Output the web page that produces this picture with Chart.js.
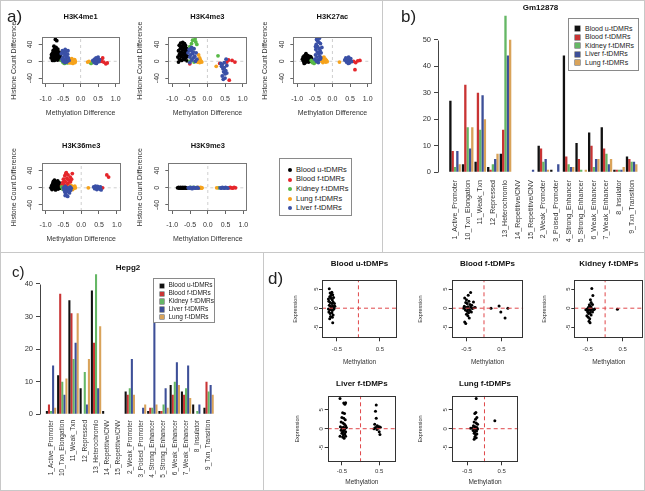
<!DOCTYPE html>
<html><head><meta charset="utf-8">
<script src="https://cdn.jsdelivr.net/npm/chart.js@4.4.1/dist/chart.umd.min.js"></script>
<style>
html,body{margin:0;padding:0;background:#fff;}
#fig{position:relative;width:645px;height:491px;overflow:hidden;font-family:'Liberation Sans',Arial,Helvetica,sans-serif;color:#222;background:#fff;}
#fig canvas{position:absolute;}
.lbl{position:absolute;font-size:17px;line-height:1;color:#222;}
.ln{position:absolute;background:#c8c8c8;}
.legend{position:absolute;background:#fff;border:1px solid #8a8a8a;box-sizing:border-box;z-index:5;}
.legend span{position:absolute;white-space:nowrap;line-height:1;color:#222;}
.legend i{position:absolute;display:block;}
</style></head><body><div id="fig"></div>
<script>
// ---------------- DATA ----------------
const seriesNames = ['Blood u-tDMRs','Blood f-tDMRs','Kidney f-tDMRs','Liver f-tDMRs','Lung f-tDMRs'];
const scatterLegendOrder = ['Blood u-tDMRs','Blood f-tDMRs','Kidney f-tDMRs','Lung f-tDMRs','Liver f-tDMRs'];
const histoneMarks = ['H3K4me1','H3K4me3','H3K27ac','H3K36me3','H3K9me3'];
const aXTicks = [-1, -0.5, 0, 0.5, 1];
const aYTicks = [-40, 0, 40];

// Panel a: [methylation difference, histone count difference]
const k4me1_bloodU = [[-0.84,8],[-0.82,14],[-0.8,20],[-0.79,5],[-0.78,26],[-0.77,12],[-0.76,18],[-0.75,2],[-0.74,30],[-0.73,9],[-0.72,22],[-0.71,15],[-0.7,6],[-0.69,27],[-0.68,11],[-0.67,19],[-0.66,3],[-0.65,24],[-0.64,14],[-0.63,8],[-0.62,17],[-0.61,21],[-0.6,10],[-0.8,2],[-0.76,36],[-0.72,52],[-0.68,49],[-0.7,33],[-0.83,16],[-0.65,29],[-0.58,13],[-0.6,4]];
const k4me1_bloodF = [[0.6,4],[0.63,8],[0.66,-2],[0.72,-6],[0.76,-4],[0.58,0]];
const k4me1_kidney = [[-0.55,2],[-0.5,-3],[-0.48,1],[-0.46,-5],[-0.44,0],[-0.42,-2],[-0.4,3],[-0.38,-4],[-0.36,1],[0.28,-3],[0.3,-5]];
const k4me1_lung = [[-0.35,2],[-0.33,-3],[-0.31,5],[-0.3,0],[-0.29,-4],[-0.27,3],[-0.26,-2],[-0.25,6],[-0.23,0],[-0.22,-5],[-0.2,2],[-0.19,-1],[-0.17,4],[-0.16,-3],[-0.15,0],[0.2,-2],[0.24,0]];
const k4me1_liver = [[-0.55,18],[-0.52,25],[-0.5,10],[-0.48,20],[-0.47,3],[-0.45,15],[-0.43,22],[-0.42,6],[-0.4,12],[-0.38,0],[-0.37,17],[-0.35,8],[-0.33,2],[-0.5,0],[-0.45,-3],[-0.4,-2],[-0.53,5],[-0.36,25],[-0.44,28],[0.35,2],[0.38,-2],[0.4,5],[0.42,0],[0.44,8],[0.46,-3],[0.48,3],[0.5,10],[0.52,-1],[0.54,4],[0.45,-5],[0.41,-4]];

const k4me3_bloodU = [[-0.84,10],[-0.82,25],[-0.8,38],[-0.79,5],[-0.78,18],[-0.77,30],[-0.76,43],[-0.75,12],[-0.74,22],[-0.73,2],[-0.72,35],[-0.71,15],[-0.7,27],[-0.69,8],[-0.68,40],[-0.67,20],[-0.66,32],[-0.65,4],[-0.64,14],[-0.63,26],[-0.62,37],[-0.61,9],[-0.6,19],[-0.59,30],[-0.58,1],[-0.57,12],[-0.56,24],[-0.82,-2],[-0.7,45],[-0.65,42],[-0.8,15],[-0.75,32]];
const k4me3_bloodF = [[0.35,-5],[0.55,-2],[0.6,3],[0.7,2],[0.78,-2],[0.62,-45],[-0.5,-6]];
const k4me3_kidney = [[-0.42,50],[-0.35,53],[-0.33,46],[-0.45,42],[-0.3,40],[-0.5,35],[-0.4,30],[-0.45,5],[-0.5,0],[-0.38,-2],[0.3,13]];
const k4me3_lung = [[-0.3,2],[-0.28,-2],[-0.26,4],[-0.24,0],[-0.22,-3],[-0.2,3],[-0.18,0],[-0.16,-2],[-0.25,15],[-0.22,8],[0.25,-12]];
const k4me3_liver = [[-0.55,20],[-0.52,28],[-0.5,10],[-0.48,15],[-0.46,25],[-0.44,3],[-0.42,18],[-0.4,8],[-0.38,30],[-0.36,12],[-0.34,0],[-0.32,20],[-0.5,-3],[-0.45,33],[-0.4,22],[-0.3,5],[0.38,-5],[0.4,-12],[0.42,-8],[0.44,-18],[0.46,-25],[0.48,-15],[0.5,-30],[0.45,-43],[0.5,-40],[0.52,-22],[0.55,-28],[0.42,-35],[0.48,-3],[0.55,-10],[0.53,5]];

const k27ac_bloodU = [[-0.85,5],[-0.83,10],[-0.82,0],[-0.8,13],[-0.79,4],[-0.78,8],[-0.77,-3],[-0.76,15],[-0.75,6],[-0.74,11],[-0.73,1],[-0.72,9],[-0.71,14],[-0.7,3],[-0.69,7],[-0.68,-2],[-0.67,12],[-0.66,5],[-0.65,9],[-0.64,0],[-0.63,6],[-0.62,11],[-0.61,2],[-0.6,8],[-0.58,4],[-0.8,-5],[-0.75,18]];
const k27ac_bloodF = [[0.6,0],[0.66,-3],[0.72,1],[0.78,2],[0.64,-20]];
const k27ac_kidney = [[-0.6,2],[-0.57,-3],[-0.55,0],[-0.52,-5],[-0.5,3],[-0.48,-2],[-0.46,1]];
const k27ac_lung = [[-0.32,5],[-0.3,0],[-0.28,8],[-0.27,-3],[-0.25,3],[-0.24,10],[-0.22,0],[-0.2,5],[-0.19,-2],[-0.17,2],[-0.15,-1],[0.2,-2]];
const k27ac_liver = [[-0.5,5],[-0.48,15],[-0.47,28],[-0.46,40],[-0.45,52],[-0.44,10],[-0.43,22],[-0.42,35],[-0.41,47],[-0.4,3],[-0.39,18],[-0.38,30],[-0.37,55],[-0.36,12],[-0.35,25],[-0.34,42],[-0.33,8],[-0.32,20],[-0.3,33],[-0.45,0],[-0.4,-3],[-0.38,45],[-0.43,50],[-0.35,5],[-0.48,35],[0.35,3],[0.38,8],[0.4,-2],[0.42,5],[0.44,0],[0.46,10],[0.48,-4],[0.5,2],[0.52,6],[0.54,-1],[0.45,-5]];

const k36me3_bloodU = [[-0.85,0],[-0.83,5],[-0.82,-4],[-0.8,10],[-0.79,2],[-0.78,15],[-0.77,-2],[-0.76,7],[-0.75,18],[-0.74,3],[-0.73,11],[-0.72,-5],[-0.71,6],[-0.7,13],[-0.69,0],[-0.68,9],[-0.67,4],[-0.66,16],[-0.65,-3],[-0.64,8],[-0.63,2],[-0.62,12],[-0.61,-1],[-0.6,5],[-0.58,0]];
const k36me3_bloodF = [[-0.55,5],[-0.52,12],[-0.5,20],[-0.48,8],[-0.46,28],[-0.45,15],[-0.43,33],[-0.42,3],[-0.4,22],[-0.38,10],[-0.37,30],[-0.35,18],[-0.33,6],[-0.31,25],[-0.3,14],[-0.28,2],[-0.27,20],[-0.25,33],[-0.42,35],[0.6,0],[0.72,30],[0.77,25]];
const k36me3_kidney = [[-0.55,2],[-0.52,-3],[-0.5,0],[-0.47,-5],[-0.44,1],[-0.41,-2]];
const k36me3_lung = [[-0.32,3],[-0.3,-2],[-0.28,5],[-0.26,0],[-0.24,-4],[-0.22,2],[-0.2,-1],[-0.18,4],[-0.16,0],[0.2,0]];
const k36me3_liver = [[-0.5,0],[-0.48,-5],[-0.46,-10],[-0.45,3],[-0.43,-15],[-0.42,-2],[-0.4,-8],[-0.38,-20],[-0.37,0],[-0.35,-4],[-0.33,-12],[-0.31,2],[-0.3,-6],[-0.28,-1],[-0.45,-18],[0.35,2],[0.38,-2],[0.4,4],[0.42,0],[0.44,-4],[0.46,3],[0.48,-1],[0.5,1],[0.52,-3],[0.54,2],[0.56,-5]];

const k9me3_bloodU = [[-0.85,0],[-0.82,1],[-0.8,-1],[-0.78,0],[-0.76,1],[-0.74,-1],[-0.72,0],[-0.7,1],[-0.68,-1],[-0.66,0],[-0.64,1],[-0.62,0],[-0.6,-1]];
const k9me3_bloodF = [[0.6,0],[0.63,1],[0.66,0],[0.7,-1],[0.74,1],[0.78,0]];
const k9me3_kidney = [[-0.52,0],[-0.48,1],[-0.45,-1],[-0.42,0],[-0.38,1],[0.3,0]];
const k9me3_lung = [[-0.3,0],[-0.27,1],[-0.25,-1],[-0.22,0],[-0.2,1],[-0.18,-1],[-0.16,0],[0.25,0]];
const k9me3_liver = [[-0.55,0],[-0.52,-1],[-0.5,1],[-0.47,0],[-0.44,-2],[-0.41,1],[-0.38,0],[-0.35,-1],[-0.32,0],[-0.3,1],[-0.27,-1],[0.35,0],[0.38,-1],[0.41,1],[0.44,0],[0.47,-1],[0.5,1],[0.53,0],[0.56,-1]];

// Panels b / c: chromatin state categories
const categories = ['1_Active_Promoter','10_Txn_Elongation','11_Weak_Txn','12_Repressed','13_Heterochromlo','14_Repetitive/CNV','15_Repetitive/CNV','2_Weak_Promoter','3_Poised_Promoter','4_Strong_Enhancer','5_Strong_Enhancer','6_Weak_Enhancer','7_Weak_Enhancer','8_Insulator','9_Txn_Transition'];
const gmTicks = [0, 10, 20, 30, 40, 50];
const gm_bloodU = [27, 3, 4, 2, 7, 0, 0, 10, 1, 44, 11, 15, 17, 1, 6];
const gm_bloodF = [8, 33, 30, 1, 16, 0, 0, 9, 0, 6, 5, 10, 9, 1, 5];
const gm_kidney = [2, 17, 16, 3, 59, 0, 0, 4, 0, 3, 1, 2, 7, 1, 4];
const gm_liver  = [8, 9, 29, 5, 44, 0, 1, 5, 3, 2, 0, 5, 3, 1, 4];
const gm_lung   = [3, 17, 20, 7, 50, 0, 0, 1, 0, 2, 1, 5, 5, 2, 3];
const hepTicks = [0, 10, 20, 30, 40];
const hep_bloodU = [1, 12, 35, 8, 38, 1, 0, 7, 0, 1, 1, 9, 7, 3, 2];
const hep_bloodF = [3, 37, 31, 0, 22, 0, 0, 6, 0, 2, 1, 6, 6, 0, 10];
const hep_kidney = [1, 10, 17, 13, 43, 0, 0, 8, 0, 2, 3, 10, 8, 1, 7];
const hep_liver  = [15, 6, 22, 3, 8, 0, 0, 17, 2, 39, 8, 16, 15, 3, 9];
const hep_lung   = [2, 11, 31, 17, 27, 0, 0, 6, 3, 3, 2, 9, 5, 0, 6];

// Panel d: [methylation, expression]
const dTitles = ['Blood u-tDMPs','Blood f-tDMPs','Kidney f-tDMPs','Liver f-tDMPs','Lung f-tDMPs'];
const dXTicks = [-0.5, 0.5];
const dYTicks = [-5, 0, 5];
const d_bloodU = [[-0.68,5.1],[-0.66,4],[-0.63,3.8],[-0.6,3.5],[-0.67,3],[-0.64,2.6],[-0.61,2.2],[-0.58,2.8],[-0.69,1.8],[-0.66,1.5],[-0.62,1.2],[-0.59,1.6],[-0.56,1.2],[-0.68,0.8],[-0.65,0.5],[-0.63,0.2],[-0.6,0.6],[-0.57,0],[-0.7,-0.2],[-0.67,-0.4],[-0.64,-0.1],[-0.61,-0.6],[-0.58,-0.3],[-0.69,-1],[-0.66,-1.4],[-0.62,-1.2],[-0.59,-1.8],[-0.65,-2.2],[-0.61,-2.4],[-0.67,-2.8],[-0.6,-3.8],[-0.64,3.3],[-0.62,4.2],[-0.7,2.4],[-0.55,0.5]];
const d_bloodF = [[-0.55,2.7],[-0.5,2.2],[-0.45,3.4],[-0.38,4.1],[-0.52,1.5],[-0.48,1.2],[-0.43,1.8],[-0.4,1],[-0.35,0.8],[-0.3,1.6],[-0.56,0.5],[-0.5,0.2],[-0.46,0.4],[-0.42,-0.2],[-0.38,0.3],[-0.33,-0.1],[-0.28,0.1],[-0.53,-0.5],[-0.48,-0.8],[-0.44,-1.2],[-0.4,-0.6],[-0.36,-1],[-0.5,-1.6],[-0.46,-2],[-0.42,-2.6],[-0.55,-3.6],[-0.52,-4],[-0.58,0],[-0.45,-0.3],[-0.25,0.2],[0.2,0],[0.43,0.6],[0.48,-1],[0.6,-2.6],[0.68,0]];
const d_kidney = [[-0.38,5.2],[-0.35,3.3],[-0.4,1.5],[-0.36,1],[-0.44,0.6],[-0.4,0.3],[-0.48,0.2],[-0.52,-0.3],[-0.45,-0.2],[-0.42,-0.6],[-0.38,-0.3],[-0.33,-0.4],[-0.3,-0.2],[-0.5,-1],[-0.47,-1.4],[-0.43,-1.2],[-0.4,-1.8],[-0.36,-1],[-0.52,-2],[-0.48,-2.4],[-0.44,-2.8],[-0.46,-3.4],[-0.43,-3.8],[-0.5,-0.6],[-0.55,-0.4],[-0.45,0.9],[-0.42,2.2],[0.35,-0.3]];
const d_liver = [[-0.55,8],[-0.45,6.8],[-0.42,6.5],[-0.4,6.9],[-0.48,4.2],[-0.43,4],[-0.5,3],[-0.45,2.8],[-0.41,2.4],[-0.52,1.8],[-0.47,1.5],[-0.43,1.2],[-0.4,0.8],[-0.54,0.5],[-0.5,0.2],[-0.46,0.4],[-0.42,0],[-0.38,0.3],[-0.52,-0.4],[-0.48,-0.6],[-0.44,-0.3],[-0.4,-0.8],[-0.5,-1.2],[-0.46,-1.6],[-0.42,-1.4],[-0.55,-2],[-0.48,-2.2],[-0.44,-2.5],[-0.4,-2],[-0.46,-0.9],[0.42,6.3],[0.4,4.6],[0.42,2.8],[0.38,1.2],[0.45,0.8],[0.5,0.5],[0.4,0.3],[0.48,0.2],[0.53,0.4],[0.44,-0.2],[0.5,-0.8],[0.52,-1.5],[0.36,0]];
const d_lung = [[-0.24,8],[-0.25,4.3],[-0.28,4],[-0.22,3],[-0.26,2.5],[-0.3,1.8],[-0.24,1.5],[-0.2,1.2],[-0.32,0.8],[-0.27,0.5],[-0.22,0.3],[-0.35,0.2],[-0.3,0],[-0.25,-0.2],[-0.2,-0.1],[-0.33,-0.5],[-0.28,-0.8],[-0.23,-0.6],[-0.3,-1.2],[-0.26,-1.6],[-0.22,-1.4],[-0.28,-2.2],[-0.3,-2.8],[-0.24,-2.4],[-0.4,0.1],[0.3,2.1]];

// ---------------- STYLE ----------------
const scatterColors = {'Blood u-tDMRs':'#000000','Blood f-tDMRs':'#E5262B','Kidney f-tDMRs':'#58B947','Lung f-tDMRs':'#F6A31C','Liver f-tDMRs':'#3A50A6'};
const barColors = {'Blood u-tDMRs':'#111111','Blood f-tDMRs':'#C93434','Kidney f-tDMRs':'#65B765','Liver f-tDMRs':'#3D4F98','Lung f-tDMRs':'#D9A35A'};
const FONT = "'Liberation Sans', Arial, Helvetica, sans-serif";

Chart.defaults.font.family = FONT;
Chart.defaults.color = '#333';
Chart.defaults.animation = false;

const boxPlugin = {id:'rbox', afterDatasetsDraw(chart, args, o){
  if (!o || !o.color) return;
  const c = chart.ctx, r = chart.chartArea;
  const x0 = Math.round(r.left)+0.5, y0 = Math.round(r.top)+0.5, x1 = Math.round(r.right)-0.5, y1 = Math.round(r.bottom)-0.5;
  c.save(); c.strokeStyle = o.color; c.lineWidth = 1; c.strokeRect(x0, y0, x1-x0, y1-y0); c.restore();
}};
const spanPlugin = {id:'yspan', afterDraw(chart, args, o){
  if (!o || o.to == null) return;
  const c = chart.ctx, ys = chart.scales.y, x = Math.round(chart.chartArea.left)+0.5;
  c.save(); c.strokeStyle = o.color; c.lineWidth = 1; c.beginPath();
  c.moveTo(x, Math.round(ys.getPixelForValue(o.from))+0.5); c.lineTo(x, Math.round(ys.getPixelForValue(o.to))+0.5); c.stroke(); c.restore();
}};
// R-style vertical y tick labels, taken from the y scale's own ticks
const rotTickPlugin = {id:'rotticks', afterDraw(chart, args, o){
  if (!o || !o.offset) return;
  const ys = chart.scales.y, c = chart.ctx, x = chart.chartArea.left - o.offset;
  c.save(); c.fillStyle = o.color || '#333'; c.font = `${o.size}px ${FONT}`; c.textAlign = 'center'; c.textBaseline = 'middle';
  ys.ticks.forEach(t => { const y = ys.getPixelForValue(t.value); c.save(); c.translate(x, y); c.rotate(-Math.PI/2); c.fillText(t.label, 0, 0); c.restore(); });
  c.restore();
}};
Chart.register(boxPlugin, spanPlugin, rotTickPlugin);

const fig = document.getElementById('fig');

function makeChart(g, type, data, scales, title, extra) {
  const lh = g.tfs ? g.tfs*1.2 : 0;
  const top0 = g.tfs ? g.tc - lh/2 : g.T;
  const cTop = Math.floor(top0) - 2;
  const cLeft = Math.floor(g.L - g.yw) - 2;
  const cRight = Math.ceil(g.R + (g.pr || 8));
  const cBottom = Math.ceil(g.B + g.xh) + 2;
  const cv = document.createElement('canvas');
  cv.width = cRight - cLeft; cv.height = cBottom - cTop;
  cv.style.left = cLeft + 'px'; cv.style.top = cTop + 'px';
  fig.appendChild(cv);
  const padding = {left: g.L - g.yw - cLeft, top: top0 - cTop, right: cRight - g.R, bottom: cBottom - g.B - g.xh};
  const plugins = Object.assign({legend:{display:false}, tooltip:{enabled:false}}, extra || {});
  if (g.tfs) plugins.title = {display:true, text:title, fullSize:false, color:'#111', font:{size:g.tfs, weight:'bold', lineHeight:1.2}, padding:{top:0, bottom: g.T - (g.tc + lh/2)}};
  return new Chart(cv, {type, data, options:{responsive:false, animation:false, events:[], devicePixelRatio:1,
    layout:{padding, autoPadding:false}, scales, plugins}});
}

function linAxis(o) {
  const horiz = o.pos === 'bottom';
  return {type:'linear', position:o.pos, min:o.min, max:o.max, offset:false,
    afterBuildTicks: s => { s.ticks = o.ticks.map(v => ({value:v})); },
    afterFit: s => { if (horiz) s.height = o.size; else s.width = o.size; },
    ticks:{display: o.hideLabels ? false : true, font:{size:o.fs}, color:'#333', padding:o.pad, autoSkip:false, maxRotation:0, minRotation:0, callback: o.fmt},
    grid:{display:true, drawOnChartArea:false, drawTicks:true, tickLength:o.tl || 3, color:o.col || '#555', offset:false},
    border:{display:false},
    title:{display:!!o.title, text:o.title || '', font:{size:o.tfs || 7}, color:'#333', padding:0}};
}

// ---------------- PANEL a ----------------
const aPanels = [
  {name:'H3K4me1', L:41.7, R:120.7, T:37.3, B:84, tc:16.7, xh:33.5, xpad:8, sets:[k4me1_bloodU,k4me1_bloodF,k4me1_kidney,k4me1_lung,k4me1_liver]},
  {name:'H3K4me3', L:168.3, R:247.3, T:37.3, B:84, tc:16.7, xh:33.5, xpad:8, sets:[k4me3_bloodU,k4me3_bloodF,k4me3_kidney,k4me3_lung,k4me3_liver]},
  {name:'H3K27ac', L:293.3, R:372.7, T:37.3, B:84, tc:16.7, xh:33.5, xpad:8, sets:[k27ac_bloodU,k27ac_bloodF,k27ac_kidney,k27ac_lung,k27ac_liver]},
  {name:'H3K36me3', L:41.7, R:120.7, T:163.3, B:211, tc:146, xh:32.2, xpad:6.5, sets:[k36me3_bloodU,k36me3_bloodF,k36me3_kidney,k36me3_lung,k36me3_liver]},
  {name:'H3K9me3', L:168.3, R:247.3, T:163.3, B:211, tc:146, xh:32.2, xpad:6.5, sets:[k9me3_bloodU,k9me3_bloodF,k9me3_kidney,k9me3_lung,k9me3_liver]}
];
const aXR = [-1.11, 1.11], aYR = [-54, 57];
aPanels.forEach(p => {
  const ds = [
    {data:[{x:0,y:aYR[0]},{x:0,y:aYR[1]}], showLine:true, borderColor:'#cfcfcf', borderWidth:1, borderDash:[3,3], pointRadius:0, order:20},
    {data:[{x:aXR[0],y:0},{x:aXR[1],y:0}], showLine:true, borderColor:'#cfcfcf', borderWidth:1, borderDash:[3,3], pointRadius:0, order:20}
  ];
  scatterLegendOrder.forEach((n, k) => {
    ds.push({label:n, data:p.sets[k].map(([x,y]) => ({x,y})), pointRadius:1.9, pointBackgroundColor:scatterColors[n], pointBorderWidth:0, backgroundColor:scatterColors[n], showLine:false, order:10-k});
  });
  makeChart({L:p.L, R:p.R, T:p.T, B:p.B, tc:p.tc, tfs:7.5, yw:32, xh:p.xh, pr:8}, 'scatter', {datasets:ds}, {
    x: linAxis({pos:'bottom', min:aXR[0], max:aXR[1], ticks:aXTicks, fmt:v => v.toFixed(1), fs:7, pad:p.xpad, size:p.xh, title:'Methylation Difference', tfs:7, col:'#666'}),
    y: linAxis({pos:'left', min:aYR[0], max:aYR[1], ticks:aYTicks, fmt:v => String(v), fs:7, pad:3, size:32, title:'Histone Count Difference', tfs:7, col:'#666', hideLabels:true})
  }, p.name, {rbox:{color:'#777'}, rotticks:{offset:11.5, size:7, color:'#333'}});
});

// ---------------- PANELS b, c ----------------
function barPanel(g, title, series, xr, yr, ticks, fs, lpad) {
  const ds = seriesNames.map((n, k) => ({label:n, data:series[k].map((v, i) => ({x:i, y:v})),
    backgroundColor:barColors[n], borderWidth:0, categoryPercentage:0.92, barPercentage:1}));
  makeChart(g, 'bar', {datasets:ds}, {
    x:{type:'linear', min:xr[0], max:xr[1], offset:false,
      afterBuildTicks: s => { s.ticks = categories.map((c, i) => ({value:i})); },
      afterFit: s => { s.height = g.xh; },
      ticks:{font:{size:fs}, color:'#333', padding:lpad, autoSkip:false, minRotation:90, maxRotation:90, callback: v => categories[v]},
      grid:{display:false, drawTicks:false, offset:false}, border:{display:false}},
    y: Object.assign(linAxis({pos:'left', min:yr[0], max:yr[1], ticks:ticks, fmt:v => String(v), fs:7.5, pad:3, size:g.yw, tl:4, col:'#444'}), {title:{display:false}})
  }, title, {yspan:{from:ticks[0], to:ticks[ticks.length-1], color:'#444'}});
}
barPanel({L:438, R:643, T:12.3, B:172.3, tc:7.5, tfs:8, yw:30, xh:83, pr:10}, 'Gm12878',
  [gm_bloodU, gm_bloodF, gm_kidney, gm_liver, gm_lung], [-1.35, 14.9], [0, 60.3], gmTicks, 7, 7.7);
barPanel({L:40, R:216, T:272.1, B:414.3, tc:267.3, tfs:8, yw:28, xh:74, pr:10}, 'Hepg2',
  [hep_bloodU, hep_bloodF, hep_kidney, hep_liver, hep_lung], [-0.98, 14.66], [0, 43.65], hepTicks, 6.5, 5.7);

// ---------------- PANEL d ----------------
const dPanels = [
  {L:322, R:397, T:280, B:338.3, tc:263.3, xr:[-0.85,0.9], yr:[-7.9,7.4], yw:29.6, xh:28.3, xpad:4.5, pts:d_bloodU},
  {L:451.7, R:523.3, T:280, B:338.3, tc:263.3, xr:[-0.92,1.12], yr:[-7.9,7.4], yw:34.6, xh:28.3, xpad:4.5, pts:d_bloodF},
  {L:574.3, R:643.3, T:280, B:338.3, tc:263.3, xr:[-0.88,1.09], yr:[-7.9,7.4], yw:33.6, xh:28.3, xpad:4.5, pts:d_kidney},
  {L:327.7, R:396, T:395.7, B:462.3, tc:384, xr:[-0.88,0.95], yr:[-8.9,8.75], yw:33.6, xh:24.3, xpad:2.4, pts:d_liver},
  {L:451.7, R:518.3, T:395.7, B:462.3, tc:384, xr:[-0.95,0.98], yr:[-8.9,8.75], yw:34.3, xh:24.3, xpad:2.4, pts:d_lung}
];
dPanels.forEach((p, k) => {
  const ds = [
    {data:p.pts.map(([x,y]) => ({x,y})), pointRadius:1.5, pointBackgroundColor:'#000', pointBorderWidth:0, backgroundColor:'#000', order:5},
    {data:[{x:0,y:p.yr[0]},{x:0,y:p.yr[1]}], showLine:true, borderColor:'#E0474A', borderWidth:1, borderDash:[4,3], pointRadius:0, order:0},
    {data:[{x:p.xr[0],y:0},{x:p.xr[1],y:0}], showLine:true, borderColor:'#E0474A', borderWidth:1, borderDash:[4,3], pointRadius:0, order:0}
  ];
  makeChart({L:p.L, R:p.R, T:p.T, B:p.B, tc:p.tc, tfs:8, yw:p.yw, xh:p.xh, pr:2}, 'scatter', {datasets:ds}, {
    x: linAxis({pos:'bottom', min:p.xr[0], max:p.xr[1], ticks:dXTicks, fmt:v => v.toFixed(1), fs:6, pad:p.xpad, size:p.xh, title:'Methylation', tfs:6.5, col:'#333'}),
    y: linAxis({pos:'left', min:p.yr[0], max:p.yr[1], ticks:dYTicks, fmt:v => String(v), fs:6, pad:3, size:p.yw, title:'Expression', tfs:5.5, col:'#333', hideLabels:true})
  }, dTitles[k], {rbox:{color:'#333'}, rotticks:{offset:6, size:6, color:'#333'}});
});

// ---------------- HTML overlays: frame, panel letters, legends ----------------
function addDiv(cls, css, text) { const d = document.createElement('div'); d.className = cls; d.style.cssText = css; if (text) d.textContent = text; fig.appendChild(d); return d; }
addDiv('ln', 'left:0;top:0;width:645px;height:1px');
addDiv('ln', 'left:0;top:0;width:1px;height:491px');
addDiv('ln', 'left:644px;top:0;width:1px;height:491px');
addDiv('ln', 'left:0;top:490px;width:645px;height:1px');
addDiv('ln', 'left:382px;top:0;width:1px;height:253px');
addDiv('ln', 'left:0;top:252px;width:645px;height:1px');
addDiv('ln', 'left:263px;top:253px;width:1px;height:238px');
addDiv('lbl', 'left:7px;top:8px;font-size:17px', 'a)');
addDiv('lbl', 'left:401px;top:8px;font-size:17px', 'b)');
addDiv('lbl', 'left:12px;top:264px;font-size:15px', 'c)');
addDiv('lbl', 'left:268px;top:270px;font-size:17px', 'd)');

function legend(x, y, w, h, names, colors, fs, row0, step, mx, tx, round, ms) {
  const box = addDiv('legend', `left:${x}px;top:${y}px;width:${w}px;height:${h}px`);
  names.forEach((n, i) => {
    const cy = row0 + step*i - y;
    const m = document.createElement('i');
    m.style.cssText = `left:${mx - x - ms/2}px;top:${cy - ms/2}px;width:${ms}px;height:${ms}px;background:${colors[n]};` + (round ? 'border-radius:50%;' : 'box-shadow:0 0 0 0.5px #444;');
    box.appendChild(m);
    const s = document.createElement('span');
    s.style.cssText = `left:${tx - x}px;top:${cy - fs*0.55}px;font-size:${fs}px`;
    s.textContent = n;
    box.appendChild(s);
  });
}
legend(279, 158, 73, 58, scatterLegendOrder, scatterColors, 7.5, 169, 9.6, 289.3, 295, true, 4);
legend(567.7, 18.3, 71, 52.4, seriesNames, barColors, 7, 27.7, 8.5, 576.7, 584, false, 5);
legend(152.7, 278.3, 62.3, 45, seriesNames, barColors, 6.5, 285, 7.8, 161, 167.5, false, 4.5);
</script></body></html>
